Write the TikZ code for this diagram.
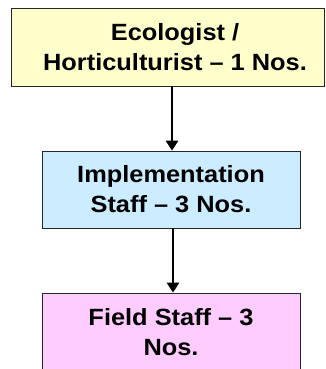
\documentclass[tikz,border=0pt]{standalone}
\usepackage{fontspec}
\setmainfont{Liberation Sans}[FakeStretch=1.08]
\usetikzlibrary{arrows.meta}
\definecolor{boxyellow}{HTML}{FFFFCC}
\definecolor{boxblue}{HTML}{CCECFF}
\definecolor{boxpink}{HTML}{FFCCFF}
\tikzset{
  boxtext/.style={align=center, inner sep=0pt,
    font=\fontsize{23.5}{30}\selectfont\bfseries},
  orgbox/.style={draw=black!85, line width=0.9pt, rectangle, boxtext},
  link/.style={line width=1.8pt, -{Triangle[length=10pt,width=12.5pt]}}
}
\begin{document}
\begin{tikzpicture}[x=1pt,y=-1pt]
  \useasboundingbox (0,0) rectangle (325,369);
  \clip (0,0) rectangle (325,369);
  % top box: its text sits a little right of the box centre
  \node[orgbox, fill=boxyellow, minimum width=313pt, minimum height=78pt,
        label={[boxtext, xshift=7.5pt]center:{Ecologist /\\Horticulturist -- 1 Nos.}}]
    (eco) at (167.5,47) {};
  \node[orgbox, fill=boxblue, minimum width=258pt, minimum height=77pt] (impl)
    at (171,189.5) {Implementation\\Staff -- 3 Nos.};
  \node[orgbox, fill=boxpink, minimum width=258pt, minimum height=79pt] (field)
    at (171,332.5) {Field Staff -- 3\\Nos.};
  \draw[link] ([xshift=4.5pt]eco.south) -- ([xshift=1pt]impl.north);
  \draw[link] ([xshift=2pt]impl.south) -- ([xshift=2pt]field.north);
\end{tikzpicture}
\end{document}
